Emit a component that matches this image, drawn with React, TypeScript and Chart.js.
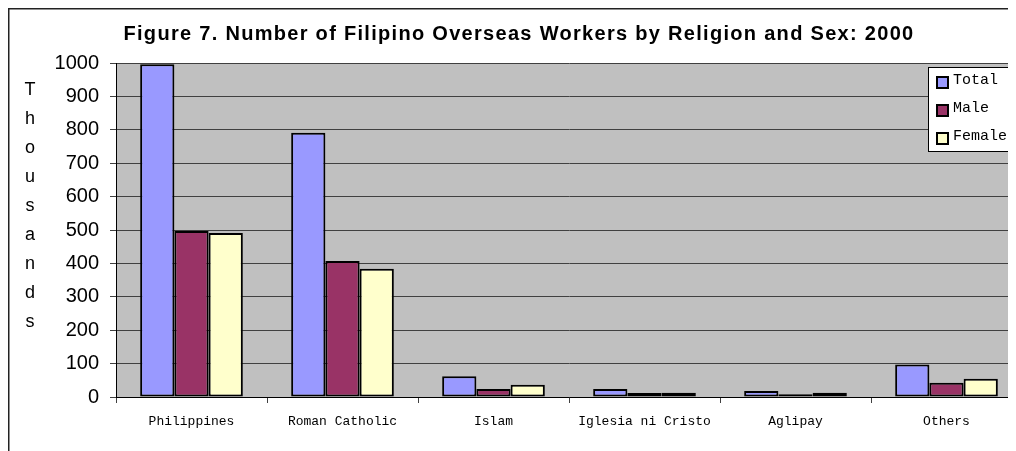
import { useEffect, useRef } from "react";
import { Chart, registerables } from "chart.js";

Chart.register(...registerables);

const categories = ["Philippines", "Roman Catholic", "Islam", "Iglesia ni Cristo", "Aglipay", "Others"];
const totalValues = [996, 791, 62, 24, 18, 97];
const maleValues = [497, 407, 24, 12, 8, 43];
const femaleValues = [491, 384, 37, 13, 13, 55];
const seriesNames = ["Total", "Male", "Female"];
const seriesColors = ["#9999FF", "#993366", "#FFFFCC"];
const titleText = "Figure 7. Number of Filipino Overseas Workers by Religion and Sex: 2000";
const yTitle = "Thousands";

export default function App() {
  const ref = useRef<HTMLCanvasElement>(null);

  useEffect(() => {
    const canvas = ref.current;
    if (!canvas) return;

    const decor = {
      id: "decor",
      beforeDraw(chart: any) {
        const { ctx, chartArea: a } = chart;
        ctx.save();
        ctx.fillStyle = "#FFFFFF";
        ctx.fillRect(0, 0, chart.width, chart.height);
        ctx.fillStyle = "#C0C0C0";
        ctx.fillRect(a.left, a.top, a.right - a.left, a.bottom - a.top);
        ctx.restore();
      },
      afterDraw(chart: any) {
        const { ctx } = chart;
        ctx.save();
        // outer frame (top and left)
        ctx.strokeStyle = "#222";
        ctx.lineWidth = 1.5;
        ctx.beginPath();
        ctx.moveTo(0.75, chart.height);
        ctx.lineTo(0.75, 0.75);
        ctx.lineTo(chart.width, 0.75);
        ctx.stroke();

        // title
        ctx.fillStyle = "#000";
        ctx.font = "bold 20px 'Liberation Sans', Arial, sans-serif";
        (ctx as any).letterSpacing = "1.3px";
        ctx.textAlign = "center";
        ctx.textBaseline = "middle";
        ctx.fillText(titleText, 511, 26);
        (ctx as any).letterSpacing = "0px";

        // vertical stacked y title
        ctx.font = "18px 'Liberation Sans', Arial, sans-serif";
        const letters = Array.from(yTitle);
        letters.forEach((ch, i) => {
          ctx.fillText(ch, 22, 82 + i * 29);
        });

        // legend
        const lx = 920;
        const ly = 59;
        ctx.fillStyle = "#FFFFFF";
        ctx.fillRect(lx, ly, chart.width - lx, 84);
        ctx.strokeStyle = "#000";
        ctx.lineWidth = 1;
        ctx.strokeRect(lx + 0.5, ly + 0.5, chart.width - lx + 5, 84);
        ctx.font = "15px 'Liberation Mono', 'Courier New', monospace";
        ctx.textAlign = "left";
        ctx.textBaseline = "middle";
        seriesNames.forEach((name, i) => {
          const cy = ly + 13 + i * 28;
          ctx.fillStyle = seriesColors[i];
          ctx.fillRect(lx + 9, cy - 3, 11, 11);
          ctx.strokeStyle = "#000";
          ctx.lineWidth = 2;
          ctx.strokeRect(lx + 9, cy - 3, 11, 11);
          ctx.fillStyle = "#000";
          ctx.fillText(name, lx + 25, cy);
        });
        ctx.restore();
      },
    };

    const chart = new Chart(canvas, {
      type: "bar",
      data: {
        labels: categories,
        datasets: [
          { label: seriesNames[0], data: totalValues, backgroundColor: seriesColors[0], borderColor: "#000", borderWidth: 2 },
          { label: seriesNames[1], data: maleValues, backgroundColor: seriesColors[1], borderColor: "#000", borderWidth: 2 },
          { label: seriesNames[2], data: femaleValues, backgroundColor: seriesColors[2], borderColor: "#000", borderWidth: 2 },
        ],
      },
      options: {
        responsive: false,
        animation: false,
        devicePixelRatio: 1,
        layout: { padding: { top: 55, right: 26, left: 0, bottom: 0 } },
        datasets: { bar: { categoryPercentage: 0.68, barPercentage: 1, borderSkipped: false } },
        plugins: {
          legend: { display: false },
          title: { display: false },
          tooltip: { enabled: false },
        },
        scales: {
          x: {
            afterFit: (s: any) => { s.height = 54; },
            grid: { drawOnChartArea: false, drawTicks: true, tickLength: 6, color: "#404040", offset: true },
            border: { color: "#000", width: 1 },
            ticks: {
              color: "#000",
              font: { family: "'Liberation Mono', 'Courier New', monospace", size: 13 },
              maxRotation: 0,
              minRotation: 0,
              autoSkip: false,
              padding: 11,
            },
          },
          y: {
            min: 0,
            max: 1000,
            afterFit: (s: any) => { s.width = 108; },
            grid: { color: "#404040", lineWidth: 1, drawTicks: true, tickLength: 6 },
            border: { color: "#000", width: 1 },
            ticks: {
              stepSize: 100,
              color: "#000",
              font: { family: "'Liberation Sans', Arial, sans-serif", size: 20 },
              padding: 11,
              callback: (v: any) => String(v),
            },
          },
        },
      },
      plugins: [decor],
    });

    return () => chart.destroy();
  }, []);

  return (
    <div style={{ width: 1008, height: 443, overflow: "hidden", position: "relative" }}>
      <canvas ref={ref} width={1040} height={443} style={{ display: "block", width: 1040, height: 443 }} />
    </div>
  );
}
